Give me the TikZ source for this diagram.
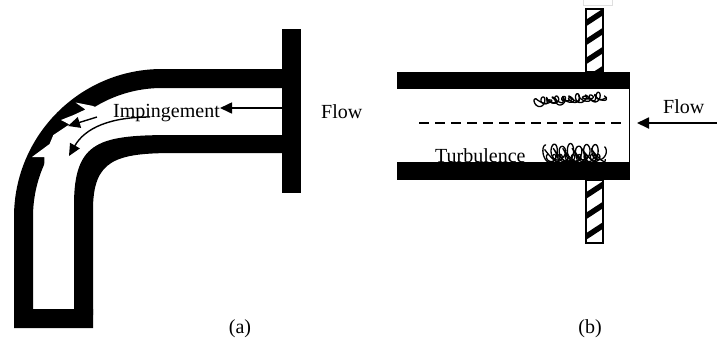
\documentclass[tikz,border=0pt]{standalone}
\usepackage{fontspec}
\setmainfont{Liberation Serif}
\usetikzlibrary{arrows.meta}
\begin{document}
\begin{tikzpicture}[x=1pt,y=-1pt,
  flowarrow/.style={draw=black, line width=1.6pt, -{Triangle[length=12pt,width=11pt]}},
  swirl/.style={draw=black, line width=1.3pt, line join=round},
  lbl/.style={font=\fontsize{20}{24}\selectfont, inner sep=0pt},
  hatchbox/.style={draw=black, line width=1.3pt}]
\useasboundingbox (0,0) rectangle (717,341);

% ---------------- (a) elbow ----------------
% outer wall with bottom cap
\fill[black] (283,69) -- (162,69) .. controls (80.3,69) and (14,135.3) .. (14,217)
  -- (14,328) -- (93,328) -- (93,309) -- (33,309) -- (33,217)
  .. controls (33,145.8) and (90.8,88) .. (162,88) -- (283,88) -- cycle;
% inner wall
\fill[black] (283,135) -- (175,135) .. controls (100,135) and (74,140) .. (74,205)
  -- (74,315) -- (93,315) -- (93,210) .. controls (93,160) and (115,153) .. (175,153)
  -- (283,153) -- cycle;
% flange
\fill[black] (282,29) rectangle (301,193);
% erosion notches along the outer wall
\fill[white] (99.5,108.7) -- (92.6,105.9) -- (75.5,102.5) -- (85.5,109.5) -- (73.4,115.1)
  -- (61,120) -- (69.4,124.4) -- (53.3,135.1) -- (49.6,144) -- (32,157)
  -- (44.4,157.1) -- (44.3,169.4) -- cycle;

\node[lbl, anchor=base west] (imp) at (113,117) {Impingement};
\node[lbl, anchor=base west] (flowa) at (321,118) {Flow};
\node[lbl, anchor=base] (capa) at (240,333) {(a)};

\coordinate (ina) at (282,108);
\coordinate (hita) at (220,108);
\coordinate (s1) at (97,117);
\coordinate (e1) at (68,126);
\coordinate (s2) at (150,117);
\coordinate (e2) at (69,156);
\draw[flowarrow] (ina) -- (hita);
\draw[flowarrow, line width=1.4pt] (s1) -- (e1);
\draw[flowarrow, line width=1.4pt] (s2) .. controls (110,117) and (85,128) .. (e2);

% ---------------- (b) straight pipe ----------------
\node[lbl, anchor=base west] (turb) at (435,162.5) {Turbulence};
\fill[black] (397,72) rectangle (630,89);
\fill[black] (397,162) rectangle (630,180);
\draw[line width=1.4pt] (629.3,89) -- (629.3,162);
\draw[line width=1.5pt, dash pattern=on 10pt off 6pt] (419,123) -- (625,123);

% hatched flange
\begin{scope}
  \clip (586,9) rectangle (603,72);
  \foreach \k in {0,...,3}
    \draw[line width=5.5pt] (580,{23+19*\k+4}) -- (609,{23+19*\k-15});
\end{scope}
\begin{scope}
  \clip (586,180) rectangle (603,243);
  \foreach \k in {-1,...,3}
    \draw[line width=5.5pt] (580,{195.5+20.5*\k+4}) -- (609,{195.5+20.5*\k-15});
\end{scope}
\draw[hatchbox] (586,9) rectangle (603,72);
\draw[hatchbox] (586,180) rectangle (603,243);
\draw[gray!25, line width=1pt] (583,-2) rectangle (612,5);

% turbulence eddies near the upper wall
\draw[swirl] plot[domain=0:3500, samples=500, variable=\t]
  ({536 + 1.1*\t/57.2958 - 3.5*sin(\t)}, {102 - 0.08*1.1*\t/57.2958 - (3+2*sin(0.37*\t))*cos(\t)});
\draw[swirl] plot[domain=0:2800, samples=450, variable=\t]
  ({540 + 1.3*\t/57.2958 - (3+1.5*cos(0.53*\t))*sin(\t+70)}, {101 - 0.06*1.3*\t/57.2958 - 3*cos(\t+20)});
% turbulence eddies near the lower wall
\draw[swirl] plot[domain=0:2500, samples=450, variable=\t]
  ({546 + 1.3*\t/57.2958 - 5*sin(\t)}, {153 - (8+1.5*sin(0.41*\t))*cos(\t)});
\draw[swirl] plot[domain=0:2000, samples=400, variable=\t]
  ({549 + 1.5*\t/57.2958 - 4.5*sin(\t+100)}, {155 - 6.5*cos(\t+30)});
\draw[swirl] plot[domain=0:3000, samples=500, variable=\t]
  ({548 + 1.0*\t/57.2958 - 3*sin(\t)}, {158 - 3.5*cos(\t)});

\node[lbl, anchor=base west] (flowb) at (663,113) {Flow};
\node[lbl, anchor=base] (capb) at (590,333) {(b)};
\coordinate (inb) at (717,123);
\coordinate (hitb) at (637,123);
\draw[flowarrow, line width=1.8pt] (inb) -- (hitb);
\end{tikzpicture}
\end{document}
